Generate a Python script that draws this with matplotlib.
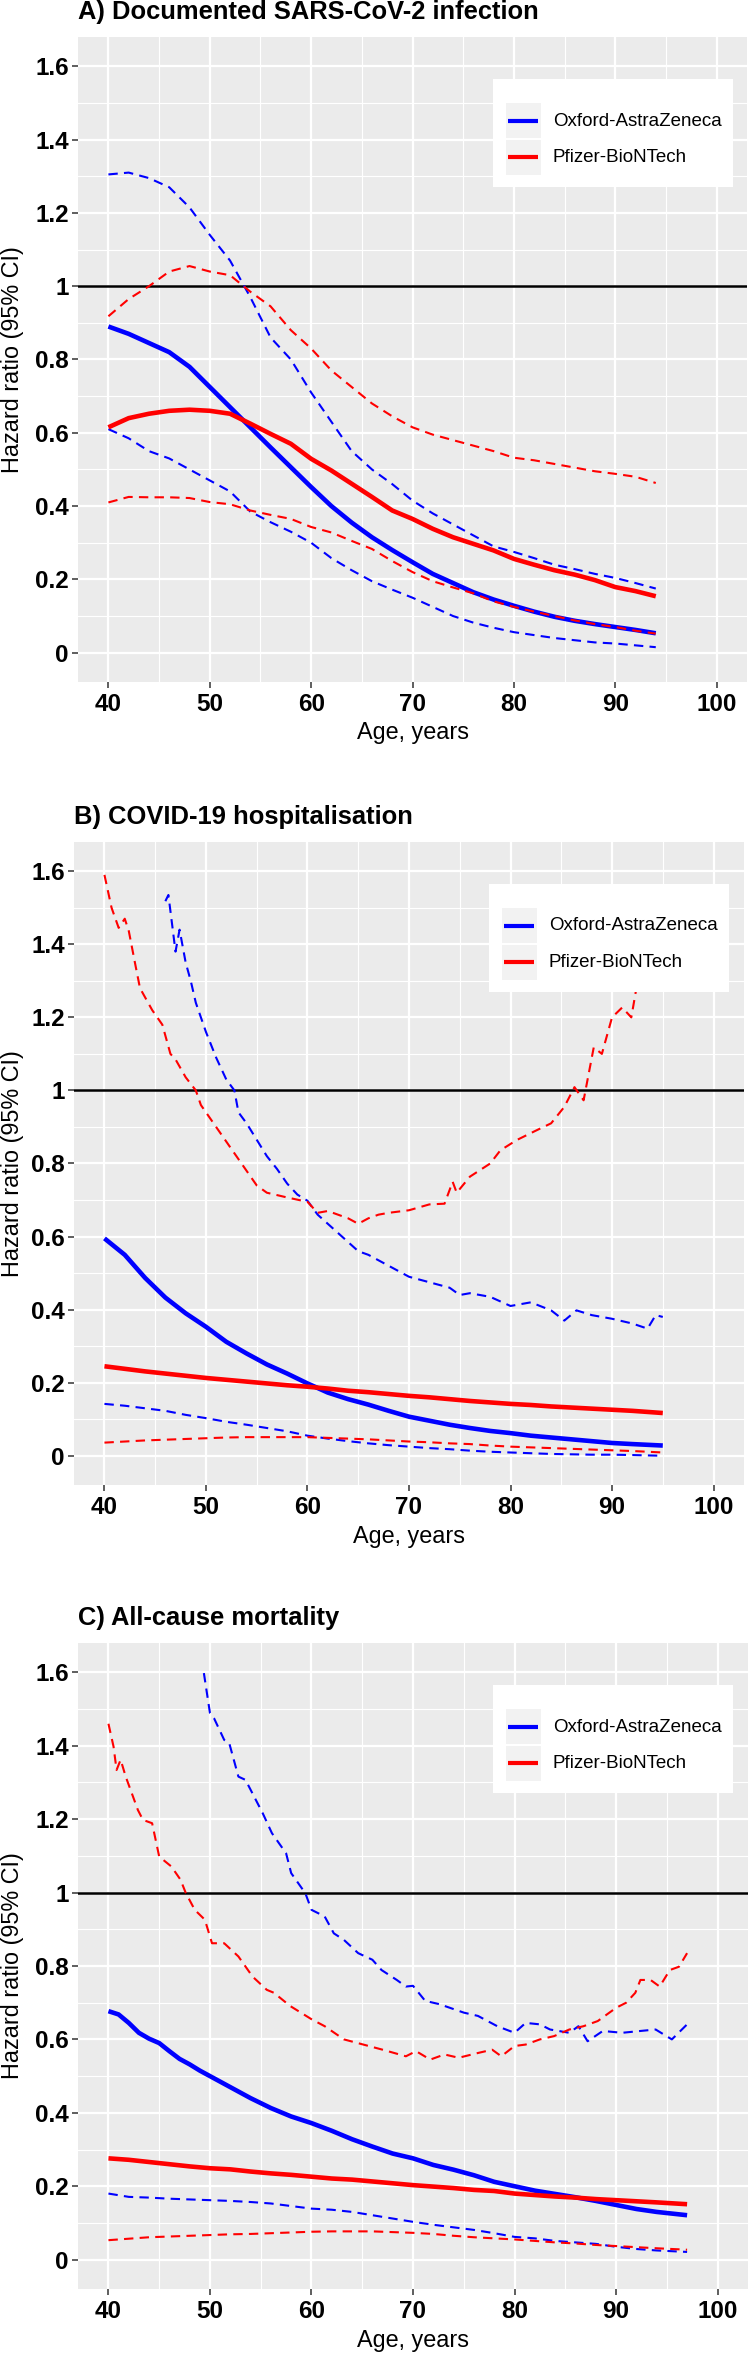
import matplotlib
matplotlib.use("Agg")
import matplotlib.pyplot as plt
from matplotlib.patches import Rectangle
from matplotlib.lines import Line2D
from matplotlib.ticker import FixedLocator

plt.rcParams['font.family'] = ['Liberation Sans', 'DejaVu Sans']

# ---------------- data ----------------
series_names = ["Oxford-AstraZeneca", "Pfizer-BioNTech"]
titles = ["A) Documented SARS-CoV-2 infection",
          "B) COVID-19 hospitalisation",
          "C) All-cause mortality"]
x_ticks = [40, 50, 60, 70, 80, 90, 100]
y_ticks = [0, 0.2, 0.4, 0.6, 0.8, 1.0, 1.2, 1.4, 1.6]
y_tick_labels = ["0", "0.2", "0.4", "0.6", "0.8", "1", "1.2", "1.4", "1.6"]

# Panel A
ages_a = [40, 42, 44, 46, 48, 50, 52, 54, 56, 58, 60, 62, 64, 66, 68, 70, 72, 74, 76, 78, 80, 82, 84, 86, 88, 90, 92, 94]
az_hr_a = [0.89, 0.87, 0.845, 0.82, 0.78, 0.725, 0.67, 0.615, 0.56, 0.506, 0.452, 0.40, 0.355, 0.315, 0.28, 0.247,
           0.215, 0.19, 0.165, 0.145, 0.128, 0.112, 0.098, 0.087, 0.078, 0.07, 0.062, 0.053]
az_lo_a = [0.61, 0.585, 0.55, 0.53, 0.5, 0.47, 0.44, 0.385, 0.356, 0.33, 0.3, 0.258, 0.225, 0.195, 0.172, 0.15,
           0.125, 0.1, 0.082, 0.068, 0.056, 0.048, 0.04, 0.034, 0.028, 0.025, 0.02, 0.015]
az_hi_a = [1.305, 1.31, 1.295, 1.27, 1.215, 1.14, 1.07, 0.97, 0.86, 0.80, 0.71, 0.63, 0.55, 0.5, 0.46, 0.415,
           0.38, 0.35, 0.32, 0.29, 0.275, 0.258, 0.24, 0.228, 0.215, 0.204, 0.19, 0.175]
pf_hr_a = [0.615, 0.64, 0.652, 0.66, 0.663, 0.66, 0.652, 0.625, 0.597, 0.57, 0.529, 0.497, 0.461, 0.425, 0.388,
           0.365, 0.338, 0.315, 0.297, 0.279, 0.256, 0.24, 0.225, 0.213, 0.198, 0.179, 0.168, 0.154]
pf_lo_a = [0.41, 0.425, 0.424, 0.424, 0.422, 0.411, 0.405, 0.388, 0.376, 0.365, 0.343, 0.328, 0.305, 0.283, 0.25,
           0.22, 0.195, 0.178, 0.162, 0.14, 0.125, 0.112, 0.1, 0.088, 0.078, 0.07, 0.06, 0.052]
pf_hi_a = [0.918, 0.965, 1.0, 1.04, 1.055, 1.04, 1.03, 0.985, 0.945, 0.88, 0.83, 0.77, 0.725, 0.68, 0.645, 0.615,
           0.595, 0.58, 0.565, 0.55, 0.532, 0.525, 0.515, 0.505, 0.495, 0.488, 0.48, 0.463]

# Panel B
ages_b = [40, 42, 44, 46, 48, 50, 52, 54, 56, 58, 60, 62, 64, 66, 68, 70, 72, 74, 76, 78, 80, 82, 84, 86, 88, 90, 92, 95]
az_hr_b = [0.595, 0.55, 0.487, 0.433, 0.39, 0.353, 0.312, 0.28, 0.25, 0.225, 0.198, 0.173, 0.155, 0.14, 0.123,
           0.107, 0.096, 0.085, 0.076, 0.068, 0.062, 0.055, 0.05, 0.045, 0.04, 0.035, 0.032, 0.028]
az_lo_b = [0.142, 0.137, 0.13, 0.123, 0.112, 0.103, 0.093, 0.085, 0.076, 0.067, 0.055, 0.047, 0.04, 0.034, 0.029,
           0.025, 0.021, 0.018, 0.014, 0.011, 0.009, 0.007, 0.005, 0.004, 0.003, 0.003, 0.002, 0.0]
pf_hr_b = [0.245, 0.238, 0.231, 0.225, 0.219, 0.213, 0.208, 0.203, 0.198, 0.193, 0.189, 0.184, 0.178, 0.174,
           0.169, 0.164, 0.16, 0.155, 0.15, 0.146, 0.142, 0.139, 0.135, 0.132, 0.129, 0.126, 0.123, 0.117]
pf_lo_b = [0.036, 0.039, 0.042, 0.044, 0.046, 0.048, 0.05, 0.051, 0.051, 0.051, 0.051, 0.049, 0.047, 0.045, 0.042,
           0.039, 0.037, 0.034, 0.032, 0.028, 0.025, 0.023, 0.021, 0.019, 0.017, 0.015, 0.013, 0.009]
az_hi_b_age = [46, 46.3, 47, 47.4, 48, 48.5, 49, 49.5, 50, 51, 52, 52.8, 53.2, 54, 55, 56, 57, 58, 59, 60,
               61, 62, 63, 64, 65, 66, 67, 68, 70, 72, 74, 75, 76, 78, 80, 82, 84, 85.3, 86.5, 88,
               90, 92, 93.5, 94.3, 95]
az_hi_b = [1.518, 1.535, 1.38, 1.44, 1.35, 1.3, 1.24, 1.2, 1.16, 1.09, 1.03, 1.0, 0.94, 0.91, 0.865, 0.82, 0.785,
           0.745, 0.715, 0.698, 0.66, 0.635, 0.61, 0.585, 0.56, 0.55, 0.535, 0.52, 0.49, 0.475, 0.46, 0.44, 0.445,
           0.435, 0.41, 0.42, 0.398, 0.37, 0.398, 0.385, 0.375, 0.362, 0.348, 0.385, 0.38]
pf_hi_b_age = [40, 40.7, 41.4, 42, 42.4, 43, 43.5, 44.7, 45.7, 46.5, 47, 48, 49, 49.5, 50, 51, 52, 53, 54, 55,
               56, 58, 60, 61, 62, 63, 64, 65, 66, 67, 68, 70, 72, 73.5, 74.3, 74.7, 76, 78, 79, 80.6,
               82.5, 84, 85.3, 86.3, 87.2, 88.2, 89, 90, 91, 91.9, 92.4, 93.5, 95]
pf_hi_b = [1.59, 1.5, 1.445, 1.47, 1.436, 1.35, 1.28, 1.22, 1.18, 1.1, 1.085, 1.036, 1.0, 0.96, 0.94, 0.9, 0.86,
           0.82, 0.78, 0.74, 0.72, 0.707, 0.695, 0.665, 0.67, 0.66, 0.65, 0.635, 0.65, 0.66, 0.665, 0.672, 0.688,
           0.69, 0.75, 0.72, 0.764, 0.8, 0.836, 0.864, 0.89, 0.91, 0.955, 1.009, 0.973, 1.118, 1.1, 1.2, 1.227,
           1.2, 1.28, 1.35, 1.45]

# Panel C
ages_c = [40, 41, 42, 43, 44, 45, 46, 47, 48, 49, 50, 52, 54, 56, 58, 60, 62, 64, 66, 68, 70, 72, 74, 76, 78, 80,
          82, 84, 86, 88, 90, 92, 94, 97]
az_hr_c = [0.677, 0.668, 0.645, 0.618, 0.602, 0.59, 0.568, 0.547, 0.532, 0.515, 0.5, 0.47, 0.44, 0.413, 0.39,
           0.372, 0.351, 0.328, 0.308, 0.289, 0.276, 0.258, 0.245, 0.23, 0.212, 0.2, 0.188, 0.179, 0.17, 0.16,
           0.149, 0.138, 0.13, 0.121]
ages_c2 = [40, 42, 44, 46, 48, 50, 52, 54, 56, 58, 60, 62, 64, 66, 68, 70, 72, 74, 76, 78, 80, 82, 84, 86, 88, 90,
           92, 94, 97]
pf_hr_c = [0.276, 0.272, 0.266, 0.26, 0.254, 0.249, 0.246, 0.24, 0.235, 0.231, 0.226, 0.221, 0.218, 0.213, 0.208,
           0.203, 0.199, 0.195, 0.19, 0.187, 0.18, 0.176, 0.172, 0.169, 0.165, 0.162, 0.159, 0.156, 0.151]
az_lo_c = [0.18, 0.171, 0.169, 0.166, 0.164, 0.162, 0.16, 0.157, 0.153, 0.146, 0.139, 0.136, 0.13, 0.121, 0.112,
           0.103, 0.095, 0.088, 0.081, 0.072, 0.062, 0.058, 0.051, 0.047, 0.043, 0.035, 0.029, 0.025, 0.021]
pf_lo_c = [0.053, 0.057, 0.061, 0.063, 0.065, 0.067, 0.069, 0.07, 0.072, 0.074, 0.076, 0.077, 0.077, 0.077, 0.075,
           0.073, 0.07, 0.065, 0.061, 0.058, 0.055, 0.051, 0.047, 0.044, 0.04, 0.037, 0.034, 0.031, 0.027]
az_hi_c_age = [49.4, 50, 50.4, 51.4, 51.9, 52.8, 53.5, 55.2, 56.1, 57.5, 58, 59.4, 60, 61.3, 62.2, 63.2, 64.6, 66,
               66.9, 68.4, 69.3, 70, 71.2, 72.6, 75, 76.4, 78.3, 80, 81.1, 82.5, 83.5, 85.4, 86.3, 87.2, 88.7,
               90.6, 92.4, 93.9, 95.5, 97]
az_hi_c = [1.598, 1.489, 1.475, 1.416, 1.407, 1.316, 1.307, 1.216, 1.162, 1.107, 1.053, 0.998, 0.953, 0.935, 0.889,
           0.871, 0.835, 0.817, 0.789, 0.762, 0.744, 0.746, 0.705, 0.696, 0.673, 0.664, 0.636, 0.618, 0.645, 0.641,
           0.627, 0.618, 0.636, 0.595, 0.623, 0.618, 0.623, 0.627, 0.6, 0.641]
pf_hi_c_age = [40, 40.5, 40.8, 41.2, 41.7, 42.9, 43.4, 44.3, 45, 46.2, 47.1, 47.6, 48.5, 49.5, 50.2, 51.4, 52.8,
               54.2, 55.6, 56.3, 57.9, 60, 61.3, 63.2, 65.1, 67, 69.3, 70.3, 71.7, 73.1, 74.5, 76.4, 77.8, 78.7,
               80, 81.1, 82.5, 83.9, 85.4, 86.8, 88.2, 90, 91, 91.9, 92.4, 93.4, 94.3, 95.3, 96.2, 97]
pf_hi_c = [1.46, 1.398, 1.334, 1.362, 1.316, 1.225, 1.198, 1.189, 1.098, 1.071, 1.035, 1.0, 0.953, 0.926, 0.862,
           0.862, 0.826, 0.771, 0.735, 0.727, 0.691, 0.655, 0.636, 0.6, 0.586, 0.572, 0.554, 0.568, 0.545, 0.559,
           0.55, 0.563, 0.572, 0.554, 0.582, 0.586, 0.6, 0.609, 0.627, 0.636, 0.65, 0.686, 0.7, 0.727, 0.762,
           0.762, 0.744, 0.789, 0.798, 0.835]

panels = [
    dict(az=(ages_a, az_hr_a), az_lo=(ages_a, az_lo_a), az_hi=(ages_a, az_hi_a),
         pf=(ages_a, pf_hr_a), pf_lo=(ages_a, pf_lo_a), pf_hi=(ages_a, pf_hi_a)),
    dict(az=(ages_b, az_hr_b), az_lo=(ages_b, az_lo_b), az_hi=(az_hi_b_age, az_hi_b),
         pf=(ages_b, pf_hr_b), pf_lo=(ages_b, pf_lo_b), pf_hi=(pf_hi_b_age, pf_hi_b)),
    dict(az=(ages_c, az_hr_c), az_lo=(ages_c2, az_lo_c), az_hi=(az_hi_c_age, az_hi_c),
         pf=(ages_c2, pf_hr_c), pf_lo=(ages_c2, pf_lo_c), pf_hi=(pf_hi_c_age, pf_hi_c)),
]

# ---------------- layout (pixels, top-left origin) ----------------
W, H = 750, 2353
boxes = [(78, 747, 37, 682), (74, 744, 842, 1485), (78, 748, 1643, 2289)]
title_y = [12, 817, 1618]
xlabel_y = [732, 1536, 2340]

BLUE = "#0000FF"
RED = "#FF0000"

fig = plt.figure(figsize=(W / 100, H / 100), dpi=100)


def fx(x):
    return x / W


def fy(y):
    return 1 - y / H


for i, (l, r, t, b) in enumerate(boxes):
    ax = fig.add_axes([fx(l), fy(b), (r - l) / W, (b - t) / H])
    ax.set_facecolor("#EBEBEB")
    for s in ax.spines.values():
        s.set_visible(False)
    ax.set_xlim(37, 103)
    ax.set_ylim(-0.08, 1.68)
    ax.xaxis.set_major_locator(FixedLocator(x_ticks))
    ax.xaxis.set_minor_locator(FixedLocator([45, 55, 65, 75, 85, 95]))
    ax.yaxis.set_major_locator(FixedLocator(y_ticks))
    ax.yaxis.set_minor_locator(FixedLocator([0.1, 0.3, 0.5, 0.7, 0.9, 1.1, 1.3, 1.5]))
    ax.set_yticklabels(y_tick_labels)
    ax.set_xticklabels([str(v) for v in x_ticks])
    ax.grid(which="major", color="white", lw=1.6)
    ax.grid(which="minor", color="white", lw=0.8)
    ax.set_axisbelow(True)
    ax.tick_params(which="major", length=4.3, width=1.1, color="#333333", labelsize=17.5, labelcolor="black")
    ax.tick_params(axis="y", which="major", pad=2.2)
    ax.tick_params(axis="x", which="major", pad=3.6)
    ax.tick_params(which="minor", length=0)
    for lbl in ax.get_xticklabels() + ax.get_yticklabels():
        lbl.set_fontweight("bold")

    p = panels[i]
    ax.axhline(1, color="black", lw=1.8, zorder=2)
    ax.plot(*p["az"], color=BLUE, lw=3.3, solid_capstyle="butt", zorder=3)
    ax.plot(*p["az_lo"], color=BLUE, lw=1.5, ls=(0, (4.5, 3)), zorder=3)
    ax.plot(*p["az_hi"], color=BLUE, lw=1.5, ls=(0, (4.5, 3)), zorder=3)
    ax.plot(*p["pf"], color=RED, lw=3.3, solid_capstyle="butt", zorder=4)
    ax.plot(*p["pf_lo"], color=RED, lw=1.5, ls=(0, (4.5, 3)), zorder=4)
    ax.plot(*p["pf_hi"], color=RED, lw=1.5, ls=(0, (4.5, 3)), zorder=4)

    # titles and axis labels
    fig.text(fx(l), fy(title_y[i]), titles[i], fontsize=18.4, fontweight="bold", ha="left", va="center")
    fig.text(fx((l + r) / 2), fy(xlabel_y[i]), "Age, years", fontsize=16.8, ha="center", va="center")
    fig.text(fx(13), fy((t + b) / 2), "Hazard ratio (95% CI)", fontsize=16.8, rotation=90,
             ha="center", va="center")

    # legend (ggplot style)
    bx0, bx1, by0, by1 = l + 415, l + 655, t + 42, t + 150
    fig.add_artist(Rectangle((fx(bx0), fy(by1)), (bx1 - bx0) / W, (by1 - by0) / H,
                             transform=fig.transFigure, facecolor="white", edgecolor="none", zorder=10))
    for k, (name, col) in enumerate(zip(series_names, [BLUE, RED])):
        ky0 = t + 66 + k * 37
        fig.add_artist(Rectangle((fx(l + 428), fy(ky0 + 35)), 35 / W, 35 / H,
                                 transform=fig.transFigure, facecolor="#F2F2F2", edgecolor="none", zorder=11))
        ly = t + 84 + k * 36
        fig.add_artist(Line2D([fx(l + 430), fx(l + 460)], [fy(ly), fy(ly)], transform=fig.transFigure,
                              color=col, lw=3.0, solid_capstyle="butt", zorder=12))
        fig.text(fx(l + 475), fy(ly), name, fontsize=13.5, ha="left", va="center", zorder=12)

fig.savefig("out.png", dpi=100)
